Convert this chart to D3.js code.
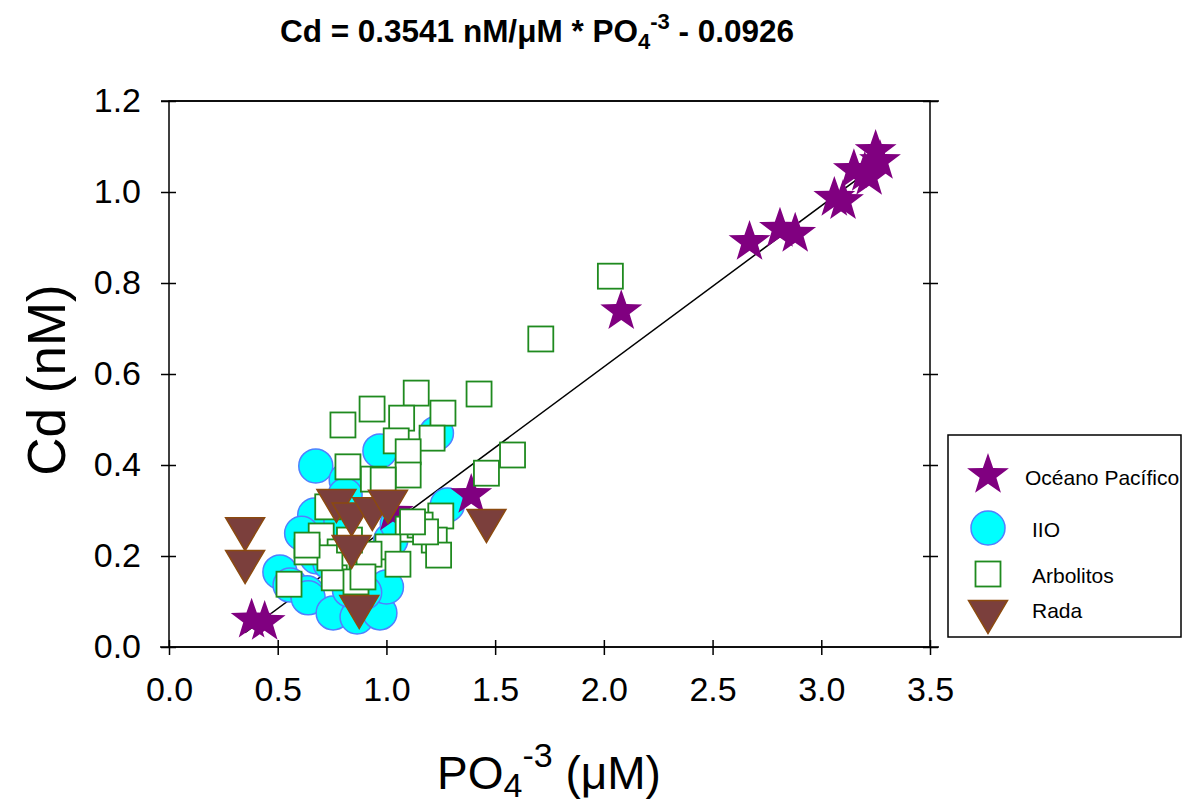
<!DOCTYPE html>
<html><head><meta charset="utf-8">
<script src="https://cdn.jsdelivr.net/npm/d3@7"></script>
<style>body{margin:0;background:#fff}svg{display:block}text{font-family:"Liberation Sans",Arial,sans-serif}</style>
</head><body>
<svg id="c" width="1183" height="805"></svg>
<script>
// ---- data ----
const xTicks = [0.0,0.5,1.0,1.5,2.0,2.5,3.0,3.5];
const yTicks = [0.0,0.2,0.4,0.6,0.8,1.0,1.2];
const seriesNames = ["Océano Pacífico","IIO","Arbolitos","Rada"];
const fitSlope = 0.3541, fitIntercept = -0.0926;
const fitRange = [0.35, 3.27];

const pacX = [0.38,0.44,1.03,1.39,2.08,2.67,2.81,2.88,3.06,3.10,3.15,3.20,3.22,3.25,3.27];
const pacY = [0.060,0.055,0.295,0.334,0.738,0.890,0.919,0.908,0.987,0.980,1.048,1.042,1.033,1.090,1.068];

const iioX = [0.675,0.97,1.23,1.28,0.815,0.67,0.61,0.51,0.557,0.635,0.64,0.755,0.865,0.97,1.00,0.68,0.74,0.81,1.02,0.83,0.90,0.79,1.05];
const iioY = [0.398,0.431,0.470,0.312,0.367,0.290,0.250,0.165,0.136,0.119,0.108,0.075,0.066,0.075,0.132,0.198,0.185,0.334,0.235,0.125,0.120,0.280,0.270];

const arbX = [2.03,1.71,1.137,1.426,0.934,0.80,1.07,1.26,1.21,1.045,1.10,1.58,0.823,0.94,1.10,1.46,0.73,1.25,1.10,1.22,1.24,1.007,1.053,0.92,0.70,0.635,0.787,0.773,0.76,0.86,0.552,0.892,0.74,1.155,1.18,1.12,0.635,0.83,0.985];
const arbY = [0.815,0.677,0.558,0.556,0.523,0.488,0.503,0.514,0.459,0.453,0.429,0.422,0.396,0.369,0.378,0.382,0.308,0.288,0.259,0.235,0.202,0.220,0.182,0.204,0.244,0.209,0.209,0.176,0.152,0.143,0.138,0.154,0.196,0.268,0.253,0.275,0.224,0.235,0.367];

const radX = [0.35,0.35,0.77,0.84,0.935,1.007,0.84,0.875,1.46];
const radY = [0.248,0.176,0.310,0.280,0.292,0.308,0.209,0.077,0.266];

// ---- layout ----
const svg = d3.select("#c");
const x = d3.scaleLinear().domain([0,3.5]).range([169,930]);
const y = d3.scaleLinear().domain([0,1.2]).range([647,101]);
const F = '"Liberation Sans",Arial,sans-serif';

const colors = {
  star:"#800080", circFill:"#00ffff", circStroke:"#5080ff",
  sqStroke:"#1f8a1f", triFill:"#7b3f3c", triStroke:"#8b4a10"
};

function starShape(R){
  const pts=[];
  for(let i=0;i<10;i++){
    const r = i%2===0 ? R : R*0.4;
    const a = -Math.PI/2 + i*Math.PI/5;
    pts.push([r*Math.cos(a), r*Math.sin(a)]);
  }
  return "M"+pts.map(p=>p[0].toFixed(2)+","+p[1].toFixed(2)).join("L")+"Z";
}
const STAR = starShape(22);
const TRI = "M-19.5,-16.5L19.5,-16.5L0,16.5Z";

// ---- frame & axes ----
const g = svg.append("g");
g.append("rect").attr("x",x(0)).attr("y",y(1.2)).attr("width",x(3.5)-x(0)).attr("height",y(0)-y(1.2))
  .attr("fill","none").attr("stroke","#000").attr("stroke-width",1.5);

const bx = g.append("g").attr("transform",`translate(0,${y(0)})`)
  .call(d3.axisBottom(x).tickValues(xTicks).tickSize(8).tickFormat(d3.format(".1f")).tickPadding(22));
const bx2 = g.append("g").attr("transform",`translate(0,${y(0)})`)
  .call(d3.axisTop(x).tickValues(xTicks).tickSize(7).tickFormat(""));
const ly = g.append("g").attr("transform",`translate(${x(0)},0)`)
  .call(d3.axisLeft(y).tickValues(yTicks).tickSize(8).tickFormat(d3.format(".1f")).tickPadding(20));
const ly2 = g.append("g").attr("transform",`translate(${x(0)},0)`)
  .call(d3.axisRight(y).tickValues(yTicks).tickSize(7).tickFormat(""));
const ry = g.append("g").attr("transform",`translate(${x(3.5)},0)`)
  .call(d3.axisRight(y).tickValues(yTicks).tickSize(8).tickFormat(""));
const ry2 = g.append("g").attr("transform",`translate(${x(3.5)},0)`)
  .call(d3.axisLeft(y).tickValues(yTicks).tickSize(7).tickFormat(""));
[bx,bx2,ly,ly2,ry,ry2].forEach(a=>{
  a.select(".domain").remove();
  a.selectAll("line").attr("stroke","#000").attr("stroke-width",1.5);
  a.selectAll("text").attr("fill","#000").style("font-family",F).style("font-size","34px");
});
bx.selectAll("text").attr("dy","0.71em");
g.append("line").attr("x1",x(0)-9).attr("x2",x(3.5)+9).attr("y1",y(0)).attr("y2",y(0)).attr("stroke","#000").attr("stroke-width",1.5);
g.append("line").attr("x1",x(0)-8).attr("x2",x(3.5)+9).attr("y1",y(1.2)).attr("y2",y(1.2)).attr("stroke","#000").attr("stroke-width",1.5);

// ---- regression line ----
g.append("line")
  .attr("x1",x(fitRange[0])).attr("y1",y(fitSlope*fitRange[0]+fitIntercept))
  .attr("x2",x(fitRange[1])).attr("y2",y(fitSlope*fitRange[1]+fitIntercept))
  .attr("stroke","#000").attr("stroke-width",1.5);

// ---- points ----
const iio = d3.zip(iioX,iioY), pac = d3.zip(pacX,pacY), arb = d3.zip(arbX,arbY), rad = d3.zip(radX,radY);
g.append("g").selectAll("circle").data(iio).join("circle")
  .attr("cx",d=>x(d[0])).attr("cy",d=>y(d[1])).attr("r",17)
  .attr("fill",colors.circFill).attr("stroke",colors.circStroke).attr("stroke-width",1.5);
g.append("g").selectAll("path").data(pac).join("path")
  .attr("d",STAR).attr("transform",d=>`translate(${x(d[0])},${y(d[1])})`)
  .attr("fill",colors.star);
g.append("g").selectAll("rect").data(arb).join("rect")
  .attr("x",d=>x(d[0])-12.5).attr("y",d=>y(d[1])-12.5).attr("width",25).attr("height",25)
  .attr("fill","#fff").attr("stroke",colors.sqStroke).attr("stroke-width",1.8);
g.append("g").selectAll("path").data(rad).join("path")
  .attr("d",TRI).attr("transform",d=>`translate(${x(d[0])},${y(d[1])})`)
  .attr("fill",colors.triFill).attr("stroke",colors.triStroke).attr("stroke-width",1.5);

// ---- titles ----
const t = svg.append("text").attr("x",537).attr("y",42).attr("text-anchor","middle")
  .style("font-size","31.5px").style("font-weight","bold");
t.append("tspan").text("Cd = 0.3541 nM/μM * PO");
t.append("tspan").attr("dy",7).style("font-size","22px").text("4");
t.append("tspan").attr("dy",-20).style("font-size","22px").text("-3");
t.append("tspan").attr("dy",13).text(" - 0.0926");

const xt = svg.append("text").attr("x",549).attr("y",789).attr("text-anchor","middle").style("font-size","46px");
xt.append("tspan").text("PO");
xt.append("tspan").attr("dy",8).style("font-size","34px").text("4");
xt.append("tspan").attr("dy",-30).style("font-size","34px").text("-3");
xt.append("tspan").attr("dy",22).text(" (μM)");

svg.append("text").attr("transform","translate(65,380) rotate(-90)").attr("text-anchor","middle")
  .style("font-size","53px").text("Cd (nM)");

// ---- legend ----
const lg = svg.append("g");
lg.append("rect").attr("x",948).attr("y",435).attr("width",233).attr("height",202)
  .attr("fill","#fff").attr("stroke","#000").attr("stroke-width",1.5);
const legY = [475,528,574,617];
const legTY = [485,537,583,618];
const legTX = [1025,1032,1032,1032];
lg.append("path").attr("d",STAR).attr("transform",`translate(988,${legY[0]})`).attr("fill",colors.star);
lg.append("circle").attr("cx",988).attr("cy",legY[1]).attr("r",17).attr("fill",colors.circFill).attr("stroke",colors.circStroke).attr("stroke-width",1.5);
lg.append("rect").attr("x",988-12.5).attr("y",legY[2]-12.5).attr("width",25).attr("height",25).attr("fill","#fff").attr("stroke",colors.sqStroke).attr("stroke-width",1.8);
lg.append("path").attr("d",TRI).attr("transform",`translate(988,${legY[3]})`).attr("fill",colors.triFill).attr("stroke",colors.triStroke).attr("stroke-width",1.5);
seriesNames.forEach((n,i)=>{
  lg.append("text").attr("x",legTX[i]).attr("y",legTY[i]).style("font-size","21px").text(n);
});
</script>
</body></html>
